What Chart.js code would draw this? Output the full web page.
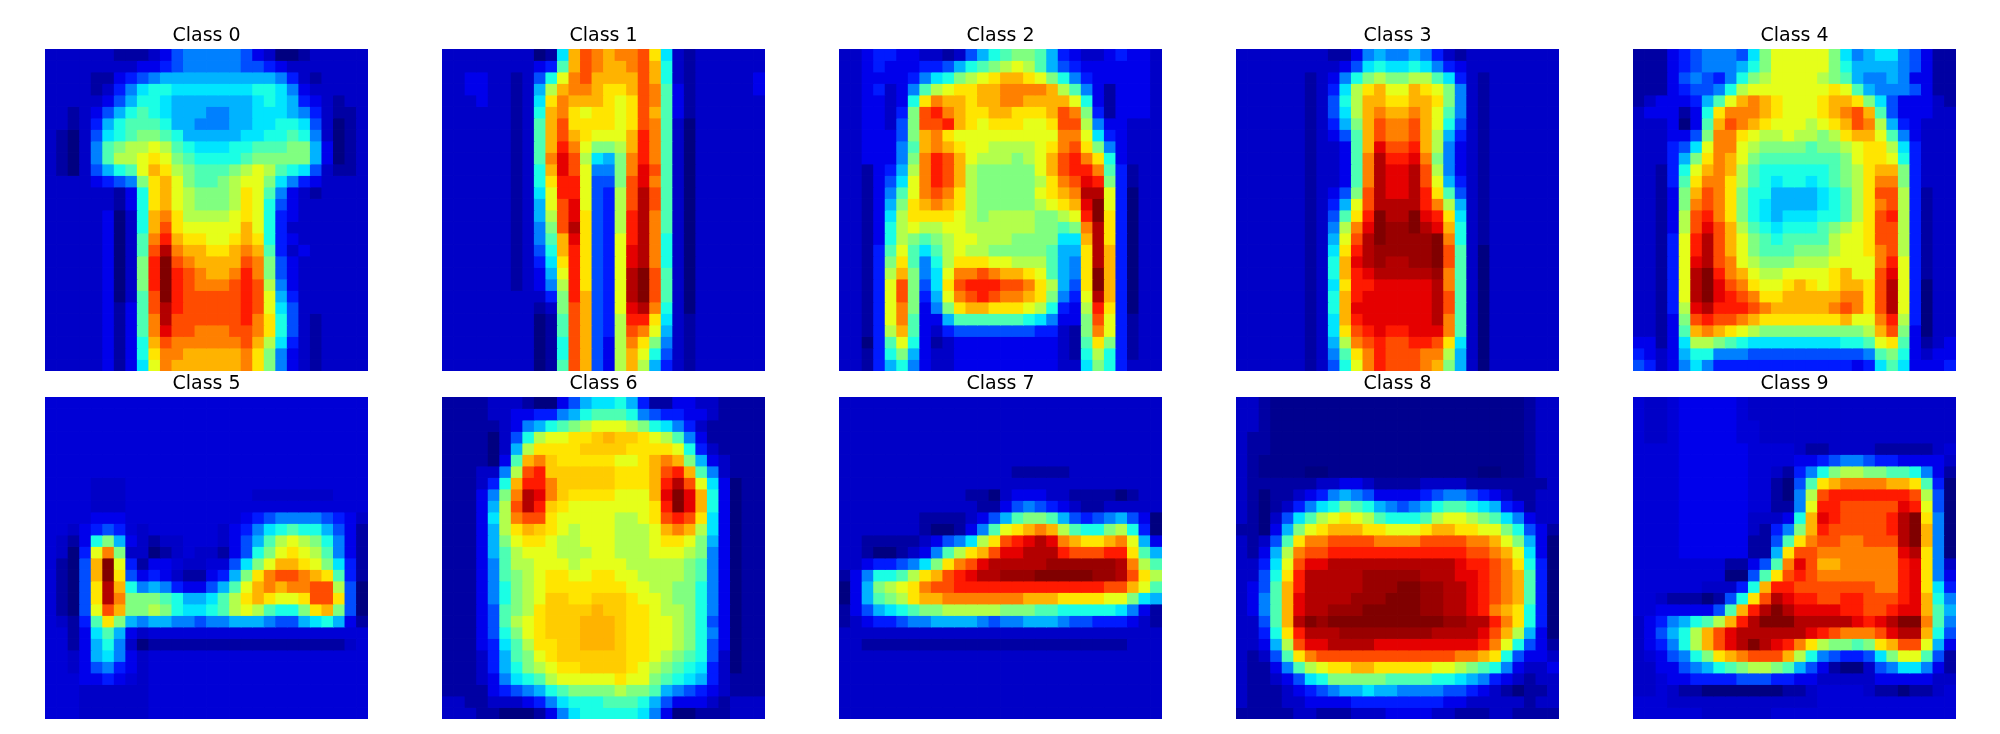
<!DOCTYPE html>
<html>
<head>
<meta charset="utf-8">
<title>Class means</title>
<script src="https://cdn.jsdelivr.net/npm/chart.js@4/dist/chart.umd.min.js"></script>
<style>
  html,body{margin:0;background:#fff}
  #wrap{position:relative;width:2000px;height:734px;overflow:hidden}
  canvas{position:absolute}
</style>
</head>
<body>
<div id="wrap"></div>
<script>
/* DATA: one string per image row, one char per cell (see levels below) */
const classNames = ['Class 0','Class 1','Class 2','Class 3','Class 4','Class 5','Class 6','Class 7','Class 8','Class 9'];
const levels = {'0':0,x:.015,z:.035,'1':.07,y:.085,'2':.105,'3':.15,'4':.2,'5':.25,'6':.3,'7':.35,'8':.4,'9':.45,a:.5,b:.55,c:.6,d:.65,n:.675,e:.7,f:.75,g:.8,h:.85,i:.9,j:.95,l:.975,k:1};

const class0 = [
"1111 11zz z124 5555 5421 00z1 1111","1111 1111 2234 5555 5443 2111 1111","1111 zz23 4566 6666 6666 531z 1111","1111 z135 7887 7777 7788 7521 1111",
"1111 1246 8876 6666 6678 7632 1z11","11z1 2468 9876 6655 6677 7653 1zz1","11z1 3689 9986 6555 6677 8874 10z1","1z01 4789 aa98 6666 6778 8985 10z1",
"1z01 59ab bcb9 8777 8899 9aa6 20z1","1z01 59bb cdca 9888 89aa aaa6 20z1","1z01 4689 cedb a999 abcb 9874 1zz1","1111 2345 adec a99a bcca 7532 1111",
"1111 11z2 8dec baaa bdc9 521z 1111","1111 11z2 8dec baaa bdc8 4211 1111","1111 1201 8efd bbbb cdc8 3211 1111","1111 1201 8egd cccc cec8 3111 1111",
"1111 1201 9fhe ddcc ded8 3211 1111","1111 1201 9gjf eedd efe9 3121 1111","1111 1201 ahkg feee egfa 4211 1111","1111 1201 ahkh gfee fhfa 4211 1111",
"1111 1201 ahkh gfff ghgb 5211 1111","1111 1201 9gkh gggg ghgc 6311 1111","1111 12z2 9gjh gggg ghgc 7411 1111","1111 12z2 9fjg gggg ghfd 841z 1111",
"1111 12z2 9fig gfff ggfd 841z 1111","1111 12z2 8egf ffff fgeb 731z 1111","1111 12z2 8dff eeee efda 521z 1111","1111 12z2 7cfe eeee efda 521z 1111"];

const class1 = [
"1111 1111 0z7e gfef fgd7 1z11 1111","1111 1111 239e gfee fge8 1z11 1111","1122 11z1 48cf geee ege8 1z11 1112","1122 11z1 6bef fedd egf9 2z11 1112",
"1112 11z1 7dfe eedc dgf9 2z11 1111","1111 11z1 8efd cddc dge9 2z11 1111","1111 11z1 9egd dddc dgf9 1011 1111","1111 11z1 9ege dccc ehf9 1011 1111",
"1111 11z1 9ehf caab ehf9 1011 1111","1111 11z1 9fig b76a fhf9 1011 1111","1111 11z1 8eig c55a fig9 1011 1111","1111 11z1 8dhh c44a gif9 1011 1111",
"1111 11z1 7chh c43b gjg9 1011 1111","1111 11z1 6cgi c43b gjg9 1011 1111","1111 11z1 6bgi d43b hjf9 1011 1111","1111 11z1 5agj d43b hjf9 1011 1111",
"1111 11z1 59ei d43c hjf8 1011 1111","1111 11z1 48eh d43c ijf8 1011 1111","1111 11z1 37dh d43c ijf8 1011 1111","1111 11z1 26ch d43c jkg9 1011 1111",
"1111 11z1 25bh d43c jkg9 1011 1111","1111 1111 13ah e43c jkg9 1011 1111","1111 1111 z1ag e43c ijf8 1011 1111","1111 1111 0z9g e43b hhd7 1z11 1111",
"1111 1111 0z9g e43b gfc6 1z11 1111","1111 1111 0z8g e42b fda5 1z11 1111","1111 1111 0z8g e42b ec84 1z11 1111","1111 1111 0z9g e42b eb63 1z11 1111"];

const class2 = [
"1123 3221 1z14 689a a963 2112 3221","1123 2223 3468 9abc b964 3222 2221","1122 2235 78ab cdee dca8 5322 2221","1123 1259 bcdd eeff ffeb 952z 2221",
"1122 128d feed eeff eeee c82z 2221","1122 13ag hfed deed ddeg fa3z 2221","1122 14ag ghed cddd ccdg gb52 2111","1122 24ae fdcc cccc cccf fc73 2111",
"1122 259e fedc cbbb bcdf gda5 2111","1122 25af hgec bbba bceg hfd8 2111","11z2 36bf hgeb aaaa aceg hhf9 3z11","11z2 47cf hgeb aaaa abdf giha 3z11",
"11z2 59cf gfdb aaaa acde fjjc 3011","11z2 6ade fedb aaaa abcd eikc 3011","11z2 7bdd ddcb abbb baab chkd 3011","11z2 8bcb bccb bbbb baa9 afjd 3011",
"11z2 8ba9 abcc bbba aaa7 7ejd 3011","11z3 9c97 9bcb baaa aa96 6dje 3011","11z3 ad95 8bdd dccb bb96 5dje 3011","11z3 bea5 7cff gfee dc96 5dke 3011",
"11z3 cga4 7dgh hhgg fdb6 4dke 3011","11z3 cga3 6cfg hgff eda5 3cje 3011","11z3 cfa2 5ade eddd cb83 2bhd 3011","11z3 cf92 2699 9999 8752 2agc 3z11",
"11z3 be92 1344 4444 4331 zafc 3z11","1103 9c82 z122 2222 2221 z9da 3z11","11z3 8a62 1122 2222 2221 z8b8 3z11","11z3 6852 1122 2222 2221 17a8 3111"];

const class3 = [
"1111 1111 zz25 6556 531z 1111 1111","1111 1111 1247 8778 7532 1111 1111","1111 11z1 258a baab b973 1z11 1111","1111 11z1 37bd ecce dca5 1z11 1111",
"1111 11z1 48be edde eda5 1z11 1111","1111 11z1 47be feef ec95 1z11 1111","1111 11z1 36ae gffg ec84 1z11 1111","1111 11z1 249e gffg eb63 1z11 1111",
"1111 11z1 129e iggh eb52 1z11 1111","1111 11z1 129f jhhi fa52 1z11 1111","1111 11z1 129f jiij gb52 1z11 1111","1111 11z1 129f jiij gc63 1z11 1111",
"1111 11z1 24ag jiij hd94 1z11 1111","1111 11z1 36cg jjjj hfb6 1z11 1111","1111 11z1 49dh kjjk ihd7 1z11 1111","1111 11z1 5bfi kllk jie8 1z11 1111",
"1111 11z1 6cgj klll lkf8 1z11 1111","1111 11z1 7dhj llll lkg9 1011 1111","1111 11z1 8eij ljjl lkg9 1011 1111","1111 11z1 8ehi jjjj jlf9 1011 1111",
"1111 11z1 7dhh iiii ijf9 1011 1111","1111 11z1 8ehi iiii ijg9 1011 1111","1111 11z1 8eii iiii ijg9 1011 1111","1111 11z1 7ehi iiii ijf9 1011 1111",
"1111 11z1 7dgh ihhi iif9 1011 1111","1111 11z1 6bfg hggh hgd7 1011 1111","1111 11z1 59df hggg ffb6 1011 1111","1111 11z1 48cf hggg fea6 1011 1111"];

const class4 = [
"zzz2 3455 547a cccc ca75 6775 42zz","zzz2 3455 568a cccc ca86 6665 42zz","zzz2 4543 58ab cccc ba96 5565 22zz","zzz2 3445 8bcc cccc cdc9 6555 42zz",
"z122 2369 cefe dccc deed a742 221z","1222 z28d fffe dccc defg e942 2211","1112 029e gfed cccb cdeg fb63 2111","1112 24af fdcb bcbb abde ec95 2111",
"1113 47cf fcba aaa9 aabc ddb7 3111","1113 6adf eca9 9999 99ac ddc8 3111","11z3 8cef eb98 8888 89ab deea 3111","11z3 9dff db98 7887 89ab dffa 3111",
"11z2 aegf da88 6666 789b dggb 3z11","11z2 afgf da87 6666 789b dfgb 3z11","11z2 bghf da87 6777 889b dghb 3z11","11z2 bgig eb98 7888 9abc dggb 3z11",
"11z3 chjg eca9 8999 9bcc dggb 3z11","11z3 chjg eca9 99aa abcc dfgb 3z11","11z3 cijg fcba aabb bccc cfhc 3z11","11z3 cjkh fecb bccc cdec cgic 3z11",
"11z3 cjki gfdc cded cdee dgjc 3011","11z3 cjki hgfd deee eeff dgjc 3011","11z3 bijh hhgf eeee efgf dgjc 3011","11z2 aghg gfed dddd ddec cfhb 3011",
"11z2 9efe dcba aaaa aaaa bega 2011","22z2 7bba 9877 7777 7788 9cd9 2z12","3212 6885 5544 4444 4444 59a8 2122","4312 5753 3333 3333 3332 3797 2223"];

const class5 = [
"yyyy yyyy yyyy yyyy yyyy yyyy yyyy","yyyy yyyy yyyy yyyy yyyy yyyy yyyy","yyyy yyyy yyyy yyyy yyyy yyyy yyyy","yyyy yyyy yyyy yyyy yyyy yyyy yyyy",
"yyyy yyyy yyyy yyyy yyyy yyyy yyyy","yyyy yyyy yyyy yyyy yyyy yyyy yyyy","yyyy yyyy yyyy yyyy yyyy yyyy yyyy","yyyy 111y yyyy yyyy yyyy yyyy yyyy",
"yyyy 111y yyyy yyyy yy11 1111 1yyy","yyyy 111y yyyy yyyy yyyy yyyy yyyy","yyyy 222y yyyy yyyy y234 5555 4321","yy12 343y 1yyy yyy1 2357 8988 642z",
"y1z2 8a62 1z11 yyy1 2469 bcba 852z","y103 cfa1 10z1 y11z 248a cdcb 952z","yz04 ekc3 z22y 11yy 47ac eedc a73z","yz04 ekd4 2321 zz23 6adf ggfe d93z",
"yz04 dje8 5653 2246 9cef effg gb40","yz04 djfa aa98 6679 bded ccdg gd40","yz04 cgea aba8 7789 bcb9 88ad ea40","y1z3 9da6 5665 5455 6665 4467 862z",
"yyz2 7962 1yyy yyyy yyyy yyyy yyyy","yyz2 6851 0zzz zzzz zzzz zzzz zz1y","yy12 6752 1yyy yyyy yyyy yyyy yyyy","yy12 4532 1yyy yyyy yyyy yyyy yyyy",
"yyy2 232y 1yyy yyyy yyyy yyyy yyyy","yyy1 1111 1yyy yyyy yyyy yyyy yyyy","yyy1 1111 1yyy yyyy yyyy yyyy yyyy","yyy1 1111 1yyy yyyy yyyy yyyy yyyy"];

const class6 = [
"zzzz 111z 0024 6778 63zz 2211 zzzz","zzzz 1122 3356 8999 8543 3221 zzzz","zzzz z125 689a bccc ba87 531z zzzz","zzzz 0148 bccd dnen ndcb 952z zzzz",
"zzzz 016b dddd nnnn dddd c831 zzzz","zzzz 029e fndd dddc cdef ea62 1zzz","zzz1 15bg hnnn nnnd ddeg he95 1zzz","zzz1 38eh hfnn nnnd ddeh jgc7 20zz",
"zzz2 5afj ifnd dddc ccei kie8 20zz","zzz2 6bgj hndc cccc ccdh kie8 20zz","zzz2 7bfg gdcc cccb bcdg hgd7 20zz","zzz2 6bde ndcb cccb bbce feb7 20zz",
"zzz2 6acd dcbb cccb bbcd dca6 20zz","zzz2 69bc ccbb bccb bbcc cba5 20zz","zzz2 59bb cccb cccc bbbb ba95 20zz","zzz2 59ab cddc cddc cbbb ba95 20zz",
"zzz2 58ab cddd dddd ccbb aa85 20zz","zzz2 58ab cnnd dnnn dccb aa85 20zz","zzz2 49ab dnnn nenn ddcb ba85 20zz","zzz2 49bc dnnn eeen ddcc ba84 20zz",
"zzz2 48ac dnnn eeen ddcc ba85 20zz","zzz2 379b ddnn eeen ddcc ba84 20zz","zzz1 369a cdnn nnnn ddcb a984 10zz","zzz1 368a bcdd nnnn dcba 9873 10zz",
"zzz1 2578 9bcc cccd cca9 8763 1zzz","zzzz 2345 689a aaab aa96 5432 1zzz","11zz 1112 3578 8899 9864 2221 z111","111z z000 z257 8888 8752 00zz z111"];

const class7 = [
"1111 1111 1111 1111 1111 1111 1111","1111 1111 1111 1111 1111 1111 1111","1111 1111 1111 1111 1111 1111 1111","1111 1111 1111 1111 1111 1111 1111",
"1111 1111 1111 1111 1111 1111 1111","1111 1111 1111 1111 1111 1111 1111","1111 1111 1111 111z zzzz 1111 1111","1111 1111 1111 1111 1111 1111 1111",
"1111 1111 111z z012 2211 zzzz 0z11","1111 1111 1111 zz24 5432 1zz1 1111","1111 111z zzz1 2469 aa96 4345 6420","1111 111z 00z2 59cd efeb 988a b830",
"11zz zzz1 2457 bdgh ijif edde fc62","11z0 0z12 59bd egii jjjh gggh hd96","1123 3457 adfg ijjj jjll llll jfb9","z258 89bd eghi jjll lkkk kkll jgdb",
"026a bcdf gghh hhhh hhhh hhhg gec9","0269 abde efff ffff eeed dddc ca76","z246 789a abbb bbaa a998 8888 752z","z123 3455 6666 5455 6665 4433 321z",
"1111 1111 1111 1111 1111 1111 1111","11zz zzzz zzzz zzzz zzzz zzzz z111","1111 1111 1111 1111 1111 1111 1111","1111 1111 1111 1111 1111 1111 1111",
"1111 1111 1111 1111 1111 1111 1111","1111 1111 1111 1111 1111 1111 1111","1111 1111 1111 1111 1111 1111 1111","1111 1111 1111 1111 1111 1111 1111"];

const class8 = [
"11zx xxxx xxxx xxxx xxxx xxxx xz11","11zx xxxx xxxx xxxx xxxx xxxx xz11","11zx xxxx xxxx xxxx xxxx xxxx xz11","1zzx xxxx xxxx xxxx xxxx xxxx xz11",
"1zzx xxxx xxxx xxxx xxxx xxxx xz11","1zxx xxxx xxxx xxxx xxxx xxxx xz11","1zxx xx00 xxxx xxxx xxxx x00x xz11","1zzz zzz1 1221 zzzz 1111 zzzz zzz1",
"1z0z z123 5654 2222 3455 4321 zz11","1z0z 1357 8a98 6545 6899 8763 2z11","1z01 479b cdcb 9888 9bcc ba97 5211","zz02 6acd eeed dccc deed dcca 842z",
"1z14 9dff gggg ffff gggg ffec a620","1z26 bfgg hhhh hhhh hhhh ggfe c720","1137 cgii jjjj jjjj jjji hhgf d830","1148 dhjj jjjl llll jjji ihgf e930",
"1249 ehjj jjjl llkk lljj ihgf e930","1259 eijj jjll lkkk lljj ihgf e930","1259 eijj lllk kkkk lljj ihfe d830","1149 ejkl kkkk kkkk kkll jjhf d830",
"1138 dhjj jlll llll ljjj jige b620","1126 bgii jjjj iiii iiii ihfc 842z","1z14 9dfg gggg gggg gggf fed8 4221","1zz2 59bc ddee dddd dccb a985 2112",
"1zz1 2478 aaaa a999 9887 6532 1z11","1zzz 1234 5667 6655 5544 321z 0zz1","1zzz 1122 2233 3333 3322 1111 1z11","zzzz z11z zz11 1222 211z zz11 zzzz"];

const class9 = [
"y11y 2222 2y11 1111 1111 1111 1111","y11y 2222 2y11 1111 1111 1111 1111","y11y 2222 2yy1 1111 1111 1111 1111","y11y 2222 2yy1 1111 1111 1111 1111",
"yyyy 2222 22yy yy1z z111 1zzz zz1y","yyyy 2222 22yy yy22 3455 4332 2221","yyyy 2222 22yy 1z35 8abb aa99 852z","yyyy 2222 22yy z049 deff ffee d930",
"yyyy 2222 22yy z05b ghhh hhhh gb40","yyyy 2222 22yy zz5c hhgg gggi hc40","yyyy 2222 2211 128e ihgg gghj kd50","yyyy 2222 221z 35ae hggg gghj ke50",
"yyyy 2222 22zz 49df ggff gggj ke50","yyyy 2222 22zz 6dgg ffff fffi jd50","yyyy yyyy zz24 9fig eeff fffh id51","yyyy yyyy 0049 dghg ffff fffh id52",
"yyyy yy11 138e hhgg gggg gffh id73","yy1z zz0z 48dg jihh gghh gggh ie85","yy22 2224 9ehj kjii iihh gghi ie96","1235 689b ehjk kkjj jjji hijk kf95",
"1246 8beg ijjj jjji hgff fgij je84","1235 8beg ijkj ihfd baa9 adeg gc62","1y24 58ad efgg geb8 5433 47ac c94z","1122 4568 9abb a964 2z00 1457 752z",
"11y2 2333 3444 3322 1111 1222 2211","11y1 zz00 0000 0zz1 yyyy 1zz0 zz1y","yyy1 1111 1111 1111 yyyy yyyy yyyy","yyyy yy11 1111 yyyy yyyy yyyy yyyy"];

const classRows = [class0,class1,class2,class3,class4,class5,class6,class7,class8,class9];

/* LAYOUT */
const panelLefts = [45,442,839,1236,1633];
const panelTops = [49,397];
const panelW = 323, panelH = 322, titleH = 30;

/* jet colormap */
function jet(v){
  const ramp = (x)=> Math.round(255*Math.max(0,Math.min(1,x)));
  return `rgb(${ramp(1.5-Math.abs(4*v-3))},${ramp(1.5-Math.abs(4*v-2))},${ramp(1.5-Math.abs(4*v-1))})`;
}

const wrap = document.getElementById('wrap');
const columns = Array.from({length:28},(_,i)=>i);

classRows.forEach((rows,n)=>{
  const c = document.createElement('canvas');
  c.width = panelW;
  c.height = panelH + titleH;
  c.style.left = panelLefts[n%5]+'px';
  c.style.top = (panelTops[n<5?0:1]-titleH)+'px';
  wrap.appendChild(c);

  // each image row is one stacked dataset, row 0 on top
  const datasets = rows.map(row=>{
    const cells = row.replace(/\s/g,'').split('').map(ch=>levels[ch]);
    return {
      data: cells.map(()=>1),
      backgroundColor: cells.map(jet),
      borderWidth: 0,
      inflateAmount: 0.4,
      barPercentage: 1,
      categoryPercentage: 1
    };
  });

  new Chart(c,{
    type:'bar',
    data:{labels:columns,datasets},
    options:{
      responsive:false,
      animation:false,
      layout:{padding:0},
      plugins:{
        legend:{display:false},
        tooltip:{enabled:false},
        title:{
          display:true,
          text:classNames[n],
          color:'#000',
          font:{family:'"DejaVu Sans"',size:19,weight:'normal',lineHeight:1.2},
          padding:{top:6,bottom:1.2}
        }
      },
      scales:{
        x:{stacked:true,display:false},
        y:{stacked:true,display:false,reverse:true,min:0,max:28}
      }
    }
  });
});
</script>
</body>
</html>
